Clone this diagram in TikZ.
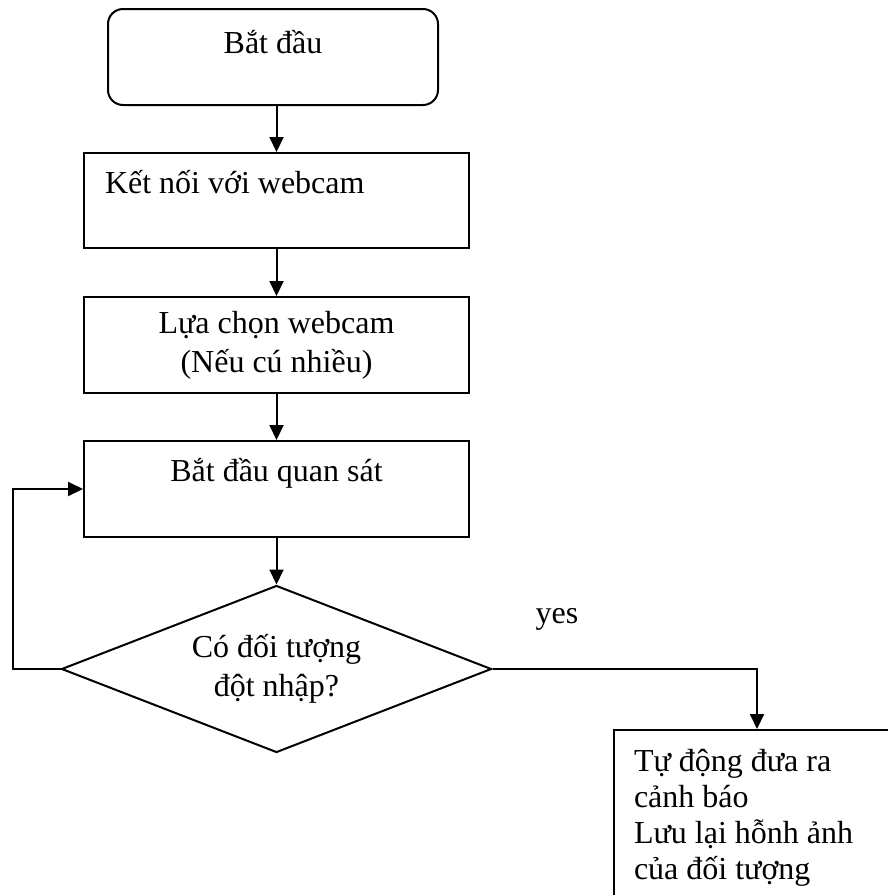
\documentclass[tikz,border=0pt]{standalone}
\usepackage{fontspec}
\setmainfont{Liberation Serif}
\usetikzlibrary{shapes.geometric,arrows.meta}

\begin{document}
\begin{tikzpicture}[x=1pt,y=-1pt,
	box/.style={draw=black, line width=2pt, fill=white, minimum width=385pt, minimum height=96pt, inner sep=0pt, font=\fontsize{32}{39}\selectfont},
	topbox/.style={box, text height=21pt, text depth=36pt},
	flow/.style={line width=2pt, -{Triangle[length=15pt,width=14pt]}}]

	%Background
	\useasboundingbox (0,0) rectangle (888,895);
	\clip (0,0) rectangle (888,895);

	%Start
	\node[box, rounded corners=15pt, minimum width=330pt, text height=21pt, text depth=29pt] (start) at (273,57) {Bắt đầu};

	%Steps
	\node[topbox, minimum height=95pt, text width=343pt, align=flush left, inner xsep=21pt] (connect) at (276.5,200.5) {Kết nối với webcam};
	\node[box, align=center] (select) at (276.5,345) {Lựa chọn webcam\\(Nếu cú nhiều)};
	\node[topbox] (watch) at (276.5,489) {Bắt đầu quan sát};

	%Decision
	\node[box, diamond, aspect=2.57, minimum width=430pt, minimum height=167pt, align=center] (check) at (276.5,669) {Có đối tượng\\đột nhập?};

	%Alarm
	\node[box, anchor=north west, minimum width=0pt, minimum height=0pt, text width=260pt, align=flush left, inner xsep=20pt, inner ysep=20pt, text height=21pt, font=\fontsize{32}{36}\selectfont] (alert) at (613,729) {Tự động đưa ra\\cảnh báo\\Lưu lại hỗnh ảnh\\của đối tượng};

	%Arrows
	\draw[flow] (start.south -| connect.north) -- (connect.north);
	\draw[flow] (connect.south) -- (select.north);
	\draw[flow] (select.south) -- (watch.north);
	\draw[flow] (watch.south) -- (check.north);

	%Loop back
	\coordinate (loop) at (13,669);
	\draw[flow] (check.west) -- (loop) |- (watch.west);

	%Yes
	\coordinate (turn) at (757,669);
	\draw[flow] (check.east) -- (turn) -- (turn |- alert.north);
	\node[font=\fontsize{32}{36}\selectfont, anchor=base] (yes) at (557,623) {yes};

\end{tikzpicture}
\end{document}
